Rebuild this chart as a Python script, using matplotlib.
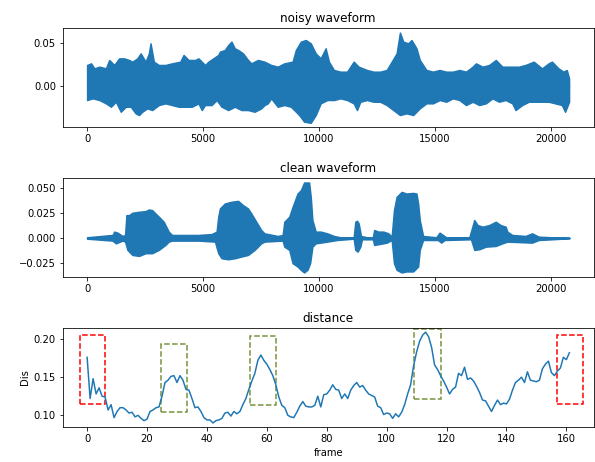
import numpy as np
import matplotlib
matplotlib.use("Agg")
import matplotlib.pyplot as plt
from matplotlib.patches import Rectangle
from matplotlib.ticker import MultipleLocator

# waveform envelopes: (sample index, amplitude)
noisy_up_x = [0, 171, 314, 527, 812, 955, 1169, 1382, 1596, 1810, 1952, 2166, 2309, 2522, 2665, 2736,
              2879, 3092, 3377, 3662, 4019, 4161, 4375, 4660, 4802, 5087, 5230, 5444, 5657, 5729, 5942,
              6085, 6227, 6370, 6512, 6726, 6940, 7082, 7367, 7652, 7937, 8222, 8507, 8864, 9006, 9220,
              9434, 9647, 9861, 10075, 10289, 10431, 10645, 10930, 11215, 11500, 11714, 12070, 12355,
              12640, 12925, 13139, 13353, 13495, 13638, 13851, 13994, 14208, 14350, 14635, 14920, 15205,
              15490, 15775, 16060, 16345, 16630, 16773, 17058, 17343, 17628, 17913, 18340, 18625, 18910,
              19266, 19623, 19908, 20050, 20335, 20549, 20691, 20791]
noisy_up = [0.0244, 0.0263, 0.0204, 0.0224, 0.0204, 0.0303, 0.0244, 0.0322, 0.0322, 0.0303, 0.0283, 0.0322,
            0.0381, 0.0283, 0.0381, 0.0499, 0.0283, 0.0244, 0.0244, 0.0263, 0.0283, 0.0362, 0.0303, 0.0303,
            0.0322, 0.0244, 0.0283, 0.0322, 0.0362, 0.0401, 0.0421, 0.0479, 0.0519, 0.0440, 0.0421, 0.0381,
            0.0303, 0.0263, 0.0303, 0.0283, 0.0244, 0.0224, 0.0263, 0.0283, 0.0421, 0.0519, 0.0538, 0.0499,
            0.0381, 0.0322, 0.0440, 0.0283, 0.0185, 0.0165, 0.0165, 0.0283, 0.0224, 0.0185, 0.0165, 0.0165,
            0.0185, 0.0283, 0.0381, 0.0626, 0.0519, 0.0499, 0.0538, 0.0440, 0.0303, 0.0185, 0.0165, 0.0185,
            0.0165, 0.0165, 0.0185, 0.0165, 0.0224, 0.0263, 0.0224, 0.0244, 0.0303, 0.0224, 0.0224, 0.0224,
            0.0244, 0.0283, 0.0204, 0.0263, 0.0283, 0.0204, 0.0165, 0.0185, 0.0086]
noisy_lo_x = [0, 242, 527, 812, 1026, 1240, 1453, 1667, 1881, 2095, 2237, 2380, 2593, 2807, 3092, 3377,
              3662, 3947, 4232, 4517, 4802, 4945, 5087, 5372, 5586, 5800, 6085, 6370, 6655, 6940, 7225,
              7510, 7652, 7795, 7937, 8222, 8507, 8792, 8935, 9149, 9362, 9647, 9861, 10075, 10360, 10645,
              10930, 11215, 11500, 11642, 11785, 12070, 12355, 12640, 12925, 13210, 13495, 13780, 14065,
              14350, 14635, 14920, 15205, 15490, 15775, 16060, 16345, 16630, 16915, 17200, 17485, 17770,
              18054, 18340, 18482, 18767, 19052, 19480, 19908, 20193, 20478, 20620, 20791]
noisy_lo = [-0.0169, -0.0149, -0.0169, -0.0208, -0.0248, -0.0189, -0.0307, -0.0248, -0.0248, -0.0326,
            -0.0346, -0.0307, -0.0267, -0.0287, -0.0228, -0.0208, -0.0228, -0.0248, -0.0248, -0.0248,
            -0.0208, -0.0287, -0.0228, -0.0228, -0.0169, -0.0248, -0.0287, -0.0248, -0.0287, -0.0287,
            -0.0307, -0.0267, -0.0228, -0.0208, -0.0149, -0.0248, -0.0228, -0.0248, -0.0287, -0.0346,
            -0.0424, -0.0437, -0.0346, -0.0208, -0.0169, -0.0169, -0.0149, -0.0169, -0.0208, -0.0287,
            -0.0189, -0.0169, -0.0189, -0.0189, -0.0228, -0.0287, -0.0346, -0.0326, -0.0346, -0.0267,
            -0.0208, -0.0208, -0.0169, -0.0189, -0.0149, -0.0169, -0.0228, -0.0189, -0.0228, -0.0208,
            -0.0149, -0.0189, -0.0169, -0.0208, -0.0287, -0.0228, -0.0189, -0.0189, -0.0189, -0.0208,
            -0.0228, -0.0307, -0.0189]

clean_up_x = [0, 1097, 1169, 1311, 1525, 1639, 1696, 1810, 1952, 2237, 2522, 2665, 2807, 2950, 3092, 3306,
              3520, 3662, 4232, 4802, 5372, 5586, 5657, 5729, 5942, 6227, 6512, 6726, 6940, 7082, 7296,
              7510, 7652, 8222, 8436, 8507, 8721, 8864, 9077, 9220, 9362, 9505, 9576, 9647, 9718, 9861,
              10075, 10360, 10645, 10930, 11500, 11571, 11642, 11714, 11813, 12070, 12327, 12384, 12569,
              12783, 12996, 13139, 13238, 13352, 13566, 13780, 14065, 14208, 14279, 14350, 14493, 15063,
              15205, 15348, 15490, 16488, 16702, 16844, 17058, 17343, 17628, 17841, 18055, 18126, 18340,
              18910, 19195, 19480, 20050, 20805]
clean_up = [0.0007, 0.0030, 0.0063, 0.0053, 0.0020, 0.0030, 0.0227, 0.0227, 0.0250, 0.0260, 0.0266, 0.0283,
            0.0276, 0.0243, 0.0211, 0.0161, 0.0063, 0.0030, 0.0030, 0.0030, 0.0039, 0.0063, 0.0211, 0.0293,
            0.0342, 0.0359, 0.0368, 0.0326, 0.0293, 0.0243, 0.0161, 0.0079, 0.0046, 0.0020, 0.0030, 0.0161,
            0.0211, 0.0309, 0.0441, 0.0474, 0.0550, 0.0550, 0.0550, 0.0408, 0.0178, 0.0063, 0.0063, 0.0046,
            0.0020, 0.0007, 0.0007, 0.0161, 0.0171, 0.0145, 0.0020, 0.0007, 0.0007, 0.0079, 0.0063, 0.0063,
            0.0046, 0.0013, 0.0276, 0.0408, 0.0457, 0.0441, 0.0447, 0.0441, 0.0342, 0.0178, 0.0020, 0.0007,
            0.0053, 0.0030, 0.0007, 0.0007, 0.0178, 0.0128, 0.0112, 0.0128, 0.0161, 0.0128, 0.0112, 0.0063,
            0.0030, 0.0020, 0.0046, 0.0013, 0.0007, 0.0003]
clean_lo_x = [0, 1097, 1240, 1525, 1639, 1739, 1952, 2237, 2522, 2807, 3092, 3377, 3520, 3662, 4802, 5515,
              5657, 5800, 6085, 6370, 6655, 6940, 7225, 7510, 7652, 8436, 8507, 8721, 8864, 9077, 9220,
              9362, 9505, 9619, 9718, 9861, 10360, 10788, 11500, 11571, 11671, 11785, 11856, 12327, 12384,
              12640, 12925, 13139, 13238, 13352, 13566, 13780, 14065, 14279, 14350, 14493, 15134, 15276,
              15419, 16559, 16702, 16915, 17200, 17628, 17913, 18126, 19195, 19480, 20050, 20805]
clean_lo = [-0.0007, -0.0026, -0.0053, -0.0026, -0.0036, -0.0118, -0.0168, -0.0178, -0.0151, -0.0151,
            -0.0118, -0.0069, -0.0036, -0.0026, -0.0026, -0.0036, -0.0151, -0.0201, -0.0211, -0.0201,
            -0.0184, -0.0168, -0.0118, -0.0053, -0.0036, -0.0026, -0.0086, -0.0118, -0.0250, -0.0283,
            -0.0316, -0.0342, -0.0316, -0.0250, -0.0086, -0.0053, -0.0036, -0.0020, -0.0007, -0.0118,
            -0.0135, -0.0086, -0.0013, -0.0013, -0.0069, -0.0059, -0.0046, -0.0020, -0.0250, -0.0316,
            -0.0342, -0.0332, -0.0332, -0.0283, -0.0118, -0.0020, -0.0020, -0.0046, -0.0020, -0.0013,
            -0.0118, -0.0112, -0.0086, -0.0079, -0.0053, -0.0036, -0.0046, -0.0020, -0.0013, -0.0003]

# distance per frame
dis = [0.176, 0.122, 0.148, 0.128, 0.136, 0.125, 0.124, 0.107, 0.114, 0.097,
       0.105, 0.110, 0.110, 0.107, 0.103, 0.104, 0.098, 0.100, 0.096, 0.093,
       0.095, 0.105, 0.107, 0.110, 0.111, 0.125, 0.143, 0.146, 0.151, 0.152,
       0.143, 0.152, 0.146, 0.134, 0.133, 0.122, 0.110, 0.111, 0.105, 0.097,
       0.094, 0.094, 0.090, 0.093, 0.094, 0.096, 0.103, 0.104, 0.099, 0.105,
       0.102, 0.105, 0.114, 0.122, 0.134, 0.145, 0.155, 0.172, 0.179, 0.172,
       0.167, 0.160, 0.152, 0.140, 0.124, 0.113, 0.110, 0.100, 0.098, 0.097,
       0.104, 0.112, 0.118, 0.112, 0.111, 0.111, 0.113, 0.125, 0.111, 0.127,
       0.128, 0.133, 0.140, 0.134, 0.133, 0.122, 0.128, 0.122, 0.133, 0.139,
       0.143, 0.137, 0.139, 0.133, 0.128, 0.126, 0.124, 0.112, 0.110, 0.101,
       0.103, 0.102, 0.096, 0.102, 0.098, 0.104, 0.114, 0.128, 0.140, 0.165,
       0.183, 0.197, 0.205, 0.209, 0.203, 0.189, 0.166, 0.160, 0.152, 0.145,
       0.137, 0.128, 0.134, 0.137, 0.155, 0.152, 0.163, 0.147, 0.149, 0.145,
       0.138, 0.130, 0.120, 0.119, 0.112, 0.105, 0.113, 0.120, 0.114, 0.116,
       0.115, 0.121, 0.133, 0.143, 0.146, 0.150, 0.143, 0.157, 0.146, 0.145,
       0.144, 0.146, 0.161, 0.167, 0.171, 0.156, 0.152, 0.158, 0.162, 0.176,
       0.173, 0.182]
frames = np.arange(len(dis))

# highlighted regions: (frame start, frame end, dis low, dis high, colour)
boxes = [(-2.5, 6.0, 0.115, 0.205, 'red'),
         (24.7, 33.3, 0.104, 0.194, '#77933c'),
         (54.4, 63.1, 0.1135, 0.204, '#77933c'),
         (109.2, 118.0, 0.122, 0.213, '#77933c'),
         (157.0, 165.4, 0.115, 0.205, 'red')]

fig = plt.figure(figsize=(595/72, 462/72), dpi=72)
W, H = 595.0, 462.0
def rect(l, t, r, b):
    return [l/W, 1 - b/H, (r-l)/W, (b-t)/H]

ax1 = fig.add_axes(rect(63, 28, 593.5, 127))
ax2 = fig.add_axes(rect(63, 178, 593.5, 277))
ax3 = fig.add_axes(rect(63, 328, 593.5, 427))

c = 'C0'
ax1.fill_between(noisy_up_x, 0, noisy_up, color=c, lw=1.5)
ax1.fill_between(noisy_lo_x, noisy_lo, 0, color=c, lw=1.5)
ax1.set_xlim(-1040, 21845)
ax1.set_ylim(-0.0487, 0.068)
ax1.set_title('noisy waveform')

ax2.fill_between(clean_up_x, 0, clean_up, color=c, lw=1.5)
ax2.fill_between(clean_lo_x, clean_lo, 0, color=c, lw=1.5)
ax2.set_xlim(-1040, 21845)
ax2.set_ylim(-0.0387, 0.0595)
ax2.set_title('clean waveform')

ax3.plot(frames, dis, color=c, lw=1.5)
for x0, x1, y0, y1, col in boxes:
    ax3.add_patch(Rectangle((x0, y0), x1 - x0, y1 - y0, fill=False,
                            edgecolor=col, ls='--', lw=1.5))
ax3.set_xlim(-8.05, 169.05)
ax3.xaxis.set_major_locator(MultipleLocator(20))
ax3.set_ylim(0.0847, 0.2144)
ax3.set_title('distance')
ax3.set_xlabel('frame')
ax3.set_ylabel('Dis')

fig.savefig('out.png', dpi=72)
